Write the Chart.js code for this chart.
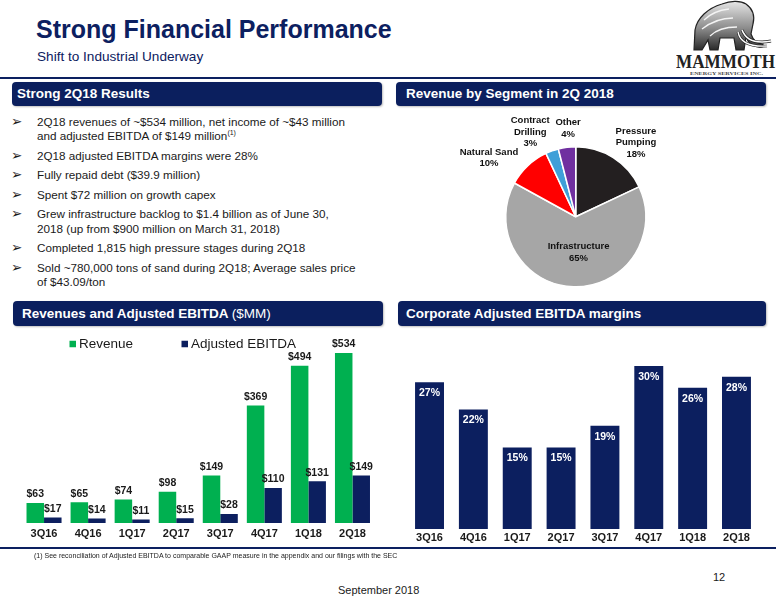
<!DOCTYPE html>
<html>
<head>
<meta charset="utf-8">
<script src="https://cdn.jsdelivr.net/npm/chart.js@4.4.1/dist/chart.umd.min.js"></script>
<style>
  html, body { margin:0; padding:0; background:#fff; }
  body { width:776px; height:600px; position:relative; overflow:hidden; font-family:"Liberation Sans", Arial, sans-serif; color:#1a1a1a; }
  .abs { position:absolute; }
  .title { left:36px; top:17px; font-size:25px; line-height:25px; font-weight:bold; color:#0c2060; white-space:nowrap; }
  .subtitle { left:37px; top:50px; font-size:13.6px; line-height:14px; color:#0c2060; white-space:nowrap; }
  .rule { left:0; width:776px; height:2px; background:#0c2060; }
  .hbox { background:#0b1f5e; border-radius:4px; color:#fff; font-weight:bold; font-size:13.5px; line-height:24px; box-sizing:border-box; white-space:nowrap; box-shadow:1px 1px 2px rgba(0,0,0,0.25); }
  .hbox .n { font-weight:normal; }
  .bullets { left:0; top:115px; width:390px; font-size:11.7px; line-height:14.3px; color:#1a1a1a; }
  .item { position:relative; padding-left:37px; margin-bottom:5.2px; white-space:nowrap; }
  .item .b { position:absolute; left:11px; top:-1px; font-family:"DejaVu Sans", sans-serif; font-size:13.5px; line-height:14.3px; font-weight:bold; }
  sup { font-size:7px; line-height:0; vertical-align:5px; }
  canvas { position:absolute; }
  .foot { left:34px; top:551px; font-size:7px; line-height:10px; white-space:nowrap; color:#1a1a1a; }
  .pg { left:713px; top:570px; font-size:11px; line-height:14px; color:#1a1a1a; }
  .date { left:338px; top:583px; font-size:11px; line-height:14px; color:#1a1a1a; white-space:nowrap; }
</style>
</head>
<body>
<div class="abs title">Strong Financial Performance</div>
<div class="abs subtitle">Shift to Industrial Underway</div>

<svg class="abs" style="left:676px;top:0px" width="100" height="78" viewBox="0 0 100 78">
  <defs>
    <linearGradient id="fur" x1="0" y1="0" x2="0" y2="1">
      <stop offset="0" stop-color="#e6e6e6"/>
      <stop offset="0.55" stop-color="#8c8c8c"/>
      <stop offset="1" stop-color="#2a2a2a"/>
    </linearGradient>
  </defs>
  <path d="M18,50 L19,30 C21,18 32,8 46,4 C54,1 64,0 70,4 C77,9 79,16 77,24 L75,34 C77,40 81,44 87,44 L86,47 C78,48 72,43 70,37 L68,50 L60,50 L58,38 L44,38 L42,50 L34,50 L32,40 L26,50 Z" fill="url(#fur)" stroke="#222" stroke-width="1.2"/>
  <path d="M28,20 C35,13 44,10 53,9 M26,29 C35,22 46,18 57,18 M34,36 C41,29 50,27 61,27" stroke="#f4f4f4" stroke-width="1.3" fill="none"/>
  <path d="M66,30 C70,40 80,44 95,41" stroke="#222" stroke-width="3" fill="none"/>
  <path d="M66,30 C70,40 80,44 95,41" stroke="#fff" stroke-width="1.6" fill="none"/>
  <path d="M62,32 C64,42 74,47 91,46" stroke="#222" stroke-width="2.6" fill="none"/>
  <path d="M62,32 C64,42 74,47 91,46" stroke="#fff" stroke-width="1.3" fill="none"/>
  <text x="0" y="68" textLength="99" lengthAdjust="spacingAndGlyphs" font-family="Liberation Serif, DejaVu Serif, serif" font-weight="bold" font-size="19" fill="#222">MAMMOTH</text>
  <text x="14" y="74.5" textLength="73" lengthAdjust="spacingAndGlyphs" font-family="Liberation Serif, serif" font-weight="bold" font-size="5" fill="#444">ENERGY SERVICES INC.</text>
</svg>

<div class="abs rule" style="top:77px"></div>

<div class="abs hbox" style="left:12px;top:82px;width:370px;height:24px;padding-left:5px;">Strong 2Q18 Results</div>
<div class="abs hbox" style="left:396px;top:82px;width:370px;height:24px;padding-left:10px;">Revenue by Segment in 2Q 2018</div>

<div class="abs bullets">
  <div class="item"><span class="b">➢</span>2Q18 revenues of ~$534 million, net income of ~$43 million<br>and adjusted EBITDA of $149 million<sup>(1)</sup></div>
  <div class="item"><span class="b">➢</span>2Q18 adjusted EBITDA margins were 28%</div>
  <div class="item"><span class="b">➢</span>Fully repaid debt ($39.9 million)</div>
  <div class="item"><span class="b">➢</span>Spent $72 million on growth capex</div>
  <div class="item"><span class="b">➢</span>Grew infrastructure backlog to $1.4 billion as of June 30,<br>2018 (up from $900 million on March 31, 2018)</div>
  <div class="item"><span class="b">➢</span>Completed 1,815 high pressure stages during 2Q18</div>
  <div class="item"><span class="b">➢</span>Sold ~780,000 tons of sand during 2Q18; Average sales price<br>of $43.09/ton</div>
</div>

<div class="abs hbox" style="left:13px;top:301px;width:370px;height:25px;line-height:25px;padding-left:9px;">Revenues and Adjusted EBITDA <span class="n">($MM)</span></div>
<div class="abs hbox" style="left:398px;top:301px;width:368px;height:25px;line-height:25px;padding-left:8px;">Corporate Adjusted EBITDA margins</div>

<canvas id="pie" width="370" height="190" style="left:396px;top:108px;"></canvas>
<canvas id="rev" width="392" height="218" style="left:0px;top:330px;"></canvas>
<canvas id="mar" width="384" height="218" style="left:392px;top:330px;"></canvas>

<div class="abs rule" style="top:547px"></div>
<div class="abs foot">(1) See reconciliation of Adjusted EBITDA to comparable GAAP measure in the appendix and our filings with the SEC</div>
<div class="abs pg">12</div>
<div class="abs date">September 2018</div>

<script>
// ---------- data ----------
const quarters = ['3Q16','4Q16','1Q17','2Q17','3Q17','4Q17','1Q18','2Q18'];
const revenue = [63, 65, 74, 98, 149, 369, 494, 534];
const adjEbitda = [17, 14, 11, 15, 28, 110, 131, 149];
const ebitdaMargin = [27, 22, 15, 15, 19, 30, 26, 28];
const segments = ['Pressure\nPumping', 'Infrastructure', 'Natural Sand', 'Contract\nDrilling', 'Other'];
const segmentShare = [18, 65, 10, 3, 4];

// ---------- styles ----------
const GREEN = '#00b050';
const NAVY = '#0c1f5f';
const SEG_COLORS = ['#231f20', '#a6a6a6', '#ff0000', '#3f9fd8', '#7030a0'];
const FONT = '"Liberation Sans", Arial, sans-serif';

Chart.defaults.font.family = FONT;
Chart.defaults.animation = false;

// value labels on bars
const valueLabels = {
  id: 'valueLabels',
  afterDatasetsDraw(chart, args, o) {
    const ctx = chart.ctx;
    ctx.save();
    ctx.font = o.font;
    ctx.textAlign = 'center';
    ctx.textBaseline = 'middle';
    ctx.fillStyle = o.color;
    chart.data.datasets.forEach((ds, i) => {
      const meta = chart.getDatasetMeta(i);
      meta.data.forEach((el, j) => {
        const txt = (o.prefix || '') + ds.data[j] + (o.suffix || '');
        const y = o.inside ? el.y + o.offset : el.y - o.offset;
        ctx.fillText(txt, el.x, y);
      });
    });
    ctx.restore();
  }
};

// simple legend drawn from datasets
const boxLegend = {
  id: 'boxLegend',
  afterDraw(chart, args, o) {
    if (!o.items) return;
    const ctx = chart.ctx;
    ctx.save();
    ctx.font = o.font;
    ctx.textBaseline = 'middle';
    chart.data.datasets.forEach((ds, i) => {
      const it = o.items[i];
      ctx.fillStyle = ds.backgroundColor;
      ctx.fillRect(it.x, o.y - o.box / 2, o.box, o.box);
      ctx.fillStyle = '#1a1a1a';
      ctx.fillText(ds.label, it.x + o.box + o.gap, o.y);
    });
    ctx.restore();
  }
};

// pie labels
const pieLabels = {
  id: 'pieLabels',
  afterDatasetsDraw(chart, args, o) {
    const ctx = chart.ctx;
    const meta = chart.getDatasetMeta(0);
    ctx.save();
    ctx.font = o.font;
    ctx.textAlign = 'center';
    ctx.textBaseline = 'middle';
    ctx.fillStyle = o.color;
    meta.data.forEach((arc, i) => {
      const r = arc.outerRadius;
      const p = o.place[i];
      const lines = (chart.data.labels[i] + '\n' + chart.data.datasets[0].data[i] + '%').split('\n');
      const cx = arc.x + p[0] * r;
      const cy = arc.y + p[1] * r;
      const top = cy - (lines.length - 1) * o.lineHeight / 2;
      lines.forEach((ln, k) => ctx.fillText(ln, cx, top + k * o.lineHeight));
    });
    ctx.restore();
  }
};

// ---------- pie ----------
new Chart(document.getElementById('pie'), {
  type: 'pie',
  data: {
    labels: segments,
    datasets: [{
      data: segmentShare,
      backgroundColor: SEG_COLORS,
      borderColor: '#ffffff',
      borderWidth: 1.5,
      hoverOffset: 0
    }]
  },
  options: {
    responsive: false,
    maintainAspectRatio: false,
    layout: { padding: { left: 109, right: 119.5, top: 38, bottom: 10.5 } },
    plugins: {
      legend: { display: false },
      tooltip: { enabled: false },
      pieLabels: {
        font: 'bold 9.5px ' + FONT,
        color: '#111',
        lineHeight: 11.5,
        place: [[0.86, -1.06], [0.04, 0.51], [-1.24, -0.84], [-0.65, -1.21], [-0.11, -1.26]]
      }
    }
  },
  plugins: [pieLabels]
});

// ---------- revenue / EBITDA ----------
new Chart(document.getElementById('rev'), {
  type: 'bar',
  data: {
    labels: quarters,
    datasets: [
      { label: 'Revenue', data: revenue, backgroundColor: GREEN, categoryPercentage: 0.795, barPercentage: 1.0 },
      { label: 'Adjusted EBITDA', data: adjEbitda, backgroundColor: NAVY, categoryPercentage: 0.795, barPercentage: 1.0 }
    ]
  },
  options: {
    responsive: false,
    maintainAspectRatio: false,
    layout: { padding: { left: 22, right: 17.5, top: 10, bottom: 0 } },
    scales: {
      x: {
        grid: { display: false, drawTicks: false },
        border: { display: false },
        ticks: { color: '#1a1a1a', font: { size: 11, weight: 'bold' }, padding: 4.5, maxRotation: 0 },
        afterFit(s) { s.height = 25; }
      },
      y: { display: false, min: 0, max: 575 }
    },
    plugins: {
      legend: { display: false },
      tooltip: { enabled: false },
      valueLabels: { font: 'bold 10.5px ' + FONT, color: '#1a1a1a', prefix: '$', suffix: '', offset: 8.5, inside: false },
      boxLegend: { font: '13.5px ' + FONT, y: 14, box: 6.5, gap: 3, items: [{ x: 69.5 }, { x: 181.5 }] }
    }
  },
  plugins: [valueLabels, boxLegend]
});

// ---------- margins ----------
new Chart(document.getElementById('mar'), {
  type: 'bar',
  data: {
    labels: quarters,
    datasets: [
      { label: 'Adjusted EBITDA margin', data: ebitdaMargin, backgroundColor: NAVY, borderWidth: 0, categoryPercentage: 1.0, barPercentage: 0.66 }
    ]
  },
  options: {
    responsive: false,
    maintainAspectRatio: false,
    layout: { padding: { left: 15.6, right: 17.6, top: 8.8, bottom: 0 } },
    scales: {
      x: {
        grid: { display: false, drawTicks: false },
        border: { display: false },
        ticks: { color: '#1a1a1a', font: { size: 11, weight: 'bold' }, padding: 2, maxRotation: 0 },
        afterFit(s) { s.height = 19; }
      },
      y: { display: false, min: 0, max: 35 }
    },
    plugins: {
      legend: { display: false },
      tooltip: { enabled: false },
      valueLabels: { font: 'bold 10.5px ' + FONT, color: '#ffffff', prefix: '', suffix: '%', offset: 11, inside: true }
    }
  },
  plugins: [valueLabels]
});
</script>
</body>
</html>
